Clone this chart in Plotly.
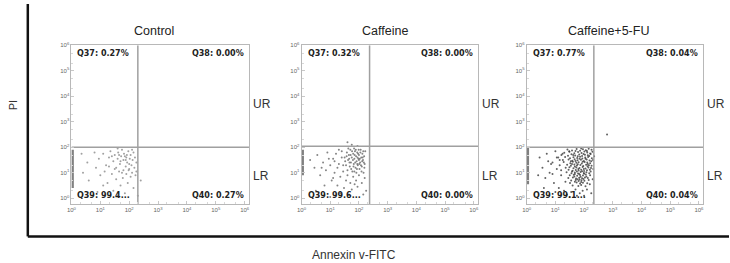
import plotly.graph_objects as go

W, H = 730, 263

panel_titles = ["Control", "Caffeine", "Caffeine+5-FU"]
q_tl = ["Q37: 0.27%", "Q37: 0.32%", "Q37: 0.77%"]
q_tr = ["Q38: 0.00%", "Q38: 0.00%", "Q38: 0.04%"]
q_bl = ["Q39: 99.4...", "Q39: 99.6...", "Q39: 99.1..."]
q_br = ["Q40: 0.27%", "Q40: 0.00%", "Q40: 0.04%"]
tick_exp = [0, 1, 2, 3, 4, 5, 6]

# gate positions (log10 units)
gate_x = [2.30, 2.37, 2.34]
gate_y = [2.00, 2.04, 2.00]

# piled-up events on the left axis (log10 y range)
edge_lo = [0.40, 0.90, 0.55]
edge_hi = [1.90, 1.90, 2.00]

# events (log10 Annexin, log10 PI)
ctrl_pts = [
    (0.35, 1.75), (0.55, 1.4), (0.8, 1.8), (0.95, 1.55), (1.1, 1.75), (1.2, 1.3), (1.3, 1.6), (1.35, 1.85),
    (1.45, 1.45), (1.5, 1.7), (1.55, 1.2), (1.6, 1.55), (1.62, 1.8), (1.68, 1.35), (1.72, 1.65), (1.75, 1.0),
    (1.8, 1.5), (1.82, 1.75), (1.88, 1.25), (1.9, 1.6), (1.93, 1.4), (1.97, 1.85), (2.0, 1.15), (2.02, 1.55),
    (2.05, 1.7), (2.08, 1.3), (2.1, 1.0), (2.12, 1.5), (2.15, 1.8), (2.18, 1.2), (2.2, 1.6), (2.22, 0.9),
    (2.25, 1.4), (0.4, 1.0), (0.6, 0.7), (0.85, 1.2), (1.0, 0.9), (1.15, 1.05), (1.25, 0.6), (1.4, 0.95),
    (1.45, 0.3), (1.55, 0.75), (1.65, 1.05), (1.7, 0.5), (1.78, 0.8), (1.85, 0.2), (1.9, 0.95), (1.95, 0.6),
    (2.05, 0.85), (2.15, 0.4), (2.25, 1.05), (2.3, 0.1), (2.4, 0.7), (1.6, 1.95), (1.75, 1.9), (1.85, 1.65),
    (1.7, 1.45), (1.8, 1.1), (1.92, 1.7), (2.0, 1.35), (1.5, 1.15), (1.4, 1.65), (1.1, 0.5), (0.9, 0.25),
    (1.3, 1.25), (1.6, 0.1), (2.1, 1.9), (1.88, 1.5), (1.65, 1.7), (1.98, 1.1),
]

caff_pts = [
    (1.5, 1.6), (1.55, 1.3), (1.58, 1.8), (1.6, 1.1), (1.62, 1.5), (1.65, 1.7), (1.68, 1.25), (1.7, 1.9),
    (1.72, 1.4), (1.75, 1.6), (1.77, 1.05), (1.8, 1.75), (1.82, 1.35), (1.84, 1.55), (1.86, 1.85), (1.88, 1.2),
    (1.9, 1.65), (1.92, 1.45), (1.94, 1.8), (1.96, 1.3), (1.98, 1.55), (2.0, 1.7), (2.02, 1.15), (2.04, 1.4),
    (2.06, 1.9), (2.08, 1.6), (2.1, 1.25), (2.12, 1.75), (2.14, 1.5), (2.16, 1.0), (2.18, 1.65), (2.2, 1.35),
    (2.22, 1.85), (1.52, 1.45), (1.63, 1.95), (1.73, 1.15), (1.79, 1.5), (1.83, 1.95), (1.87, 1.4), (1.91, 1.0),
    (1.95, 1.6), (1.99, 1.9), (2.03, 1.55), (2.07, 1.3), (2.11, 1.45), (2.15, 1.85), (2.19, 1.2), (1.57, 1.65),
    (1.67, 1.4), (1.71, 1.7), (1.81, 1.25), (1.85, 1.7), (1.93, 1.15), (1.97, 1.75), (2.01, 1.35), (2.05, 1.8),
    (2.09, 1.05), (2.13, 1.6), (2.17, 1.4), (1.76, 1.85), (1.89, 1.9), (2.0, 1.5), (1.84, 1.05), (1.66, 1.55),
    (1.94, 1.35),
    (0.3, 1.5), (0.45, 1.2), (0.55, 1.7), (0.65, 0.9), (0.75, 1.4), (0.85, 1.1), (0.9, 1.8), (1.0, 1.3),
    (1.05, 0.7), (1.1, 1.55), (1.15, 1.0), (1.2, 1.75), (1.25, 0.5), (1.3, 1.35), (1.35, 0.85), (1.4, 1.6),
    (1.45, 1.05), (1.48, 0.4), (1.55, 0.7), (1.6, 0.9), (1.7, 0.6), (1.75, 0.35), (1.8, 0.85), (1.9, 0.7),
    (1.95, 0.45), (2.0, 0.9), (2.1, 0.6), (2.2, 0.8), (2.25, 0.3), (1.65, 0.15), (1.35, 0.2), (0.8, 0.5),
    (0.5, 0.3), (1.0, 0.05), (1.85, 0.55), (2.15, 0.15), (1.25, 1.2), (1.15, 1.45), (0.95, 1.55), (1.4, 1.85),
    (1.45, 1.3), (1.3, 1.9), (0.7, 1.2), (1.1, 0.8), (1.6, 2.2), (1.75, 2.1), (1.95, 2.05),
]

fu_pts = [
    (1.42, 1.91), (1.58, 1.88), (1.74, 1.93), (1.86, 1.87), (1.96, 1.92), (2.06, 1.89), (2.16, 1.94), (2.26, 1.9),
    (1.31, 1.79), (1.49, 1.83), (1.66, 1.77), (1.79, 1.82), (1.91, 1.78), (2.01, 1.84), (2.11, 1.8), (2.21, 1.76),
    (2.29, 1.83), (1.21, 1.7), (1.44, 1.67), (1.56, 1.73), (1.69, 1.68), (1.83, 1.72), (1.93, 1.66), (2.03, 1.71),
    (2.13, 1.69), (2.23, 1.74), (1.1, 1.6), (1.34, 1.62), (1.51, 1.57), (1.63, 1.61), (1.76, 1.58), (1.86, 1.63),
    (1.94, 1.56), (2.04, 1.6), (2.14, 1.62), (2.27, 1.57), (1.26, 1.5), (1.46, 1.52), (1.59, 1.47), (1.67, 1.53),
    (1.77, 1.49), (1.89, 1.51), (1.99, 1.46), (2.09, 1.52), (2.19, 1.48), (2.31, 1.5), (0.9, 1.4), (1.29, 1.42),
    (1.52, 1.38), (1.61, 1.43), (1.73, 1.39), (1.81, 1.41), (1.92, 1.37), (2.02, 1.42), (2.11, 1.4), (2.21, 1.38),
    (1.15, 1.3), (1.41, 1.32), (1.54, 1.28), (1.66, 1.33), (1.75, 1.29), (1.87, 1.31), (1.97, 1.27), (2.07, 1.32),
    (2.17, 1.3), (2.26, 1.28), (1.36, 1.2), (1.49, 1.22), (1.63, 1.18), (1.73, 1.21), (1.84, 1.19), (1.95, 1.23),
    (2.05, 1.17), (2.15, 1.21), (2.24, 1.19), (1.2, 1.1), (1.46, 1.12), (1.6, 1.08), (1.71, 1.11), (1.81, 1.09),
    (1.9, 1.12), (2.0, 1.07), (2.1, 1.1), (2.2, 1.12), (0.8, 1.0), (1.39, 1.02), (1.56, 0.98), (1.68, 1.01),
    (1.79, 0.97), (1.88, 1.03), (1.99, 0.99), (2.08, 1.02), (2.18, 0.98), (1.5, 0.9), (1.64, 0.92), (1.76, 0.88),
    (1.86, 0.91), (1.96, 0.89), (2.06, 0.93), (2.21, 0.9), (1.45, 0.8), (1.61, 0.82), (1.72, 0.78), (1.83, 0.81),
    (1.93, 0.79), (2.03, 0.82), (2.13, 0.8), (1.55, 0.7), (1.71, 0.72), (1.81, 0.68), (1.91, 0.71), (2.01, 0.69),
    (2.16, 0.72), (1.51, 0.6), (1.74, 0.62), (1.86, 0.58), (1.96, 0.61), (2.11, 0.59), (1.6, 0.5), (1.8, 0.48),
    (1.9, 0.52), (2.05, 0.47),
    (1.48, 1.85), (1.7, 1.86), (1.9, 1.95), (2.1, 1.86), (1.62, 1.7), (1.78, 1.65), (1.98, 1.74), (2.18, 1.66),
    (1.54, 1.45), (1.7, 1.46), (1.84, 1.55), (2.05, 1.55), (2.25, 1.45), (1.58, 1.35), (1.78, 1.34), (1.95, 1.43),
    (2.13, 1.35), (1.68, 1.25), (1.8, 1.15), (1.99, 1.15), (2.12, 1.26), (1.58, 1.05), (1.75, 1.05), (1.93, 1.06),
    (2.23, 1.05), (1.68, 0.95), (1.83, 0.95), (2.0, 0.96), (1.66, 0.86), (1.88, 0.85), (2.08, 0.86), (1.77, 0.75),
    (1.98, 0.76), (1.68, 0.65), (1.9, 0.64), (1.84, 0.74),
    (0.45, 1.6), (0.55, 1.2), (0.65, 0.8), (0.7, 1.75), (0.85, 1.35), (0.95, 0.6), (1.0, 1.85), (1.05, 1.15),
    (1.12, 0.4), (1.2, 0.9), (1.25, 1.75), (1.3, 0.3), (1.35, 0.65), (1.4, 0.15), (1.55, 0.25), (1.7, 0.35),
    (1.85, 0.2), (1.95, 0.3), (2.1, 0.35), (2.2, 0.55), (2.3, 0.75), (2.32, 1.15), (2.35, 1.65), (0.6, 0.4),
    (0.9, 0.95), (0.4, 0.9), (1.05, 1.6), (0.75, 1.45), (1.15, 1.5), (1.0, 0.25), (2.25, 0.2), (1.5, 0.05),
    (1.75, 0.1), (2.0, 0.1), (2.8, 2.5),
]

all_pts = [ctrl_pts, caff_pts, fu_pts]
dot_colors = ["#8a8a8a", "#666666", "#3a3a3a"]

# panel boxes in pixels
px_left = [67, 299, 526]
px_right = [246, 477, 704]
px_top, px_bottom = 42, 203
x_range = [0, 6.15]
y_range = [-0.22, 6.0]

fig = go.Figure()

tickvals = [10 ** e for e in tick_exp]
ticktext = [f"10<sup>{e}</sup>" for e in tick_exp]

for i in range(3):
    ax = "" if i == 0 else str(i + 1)
    xa, ya = "x" + ax, "y" + ax
    pts = all_pts[i]
    fig.add_trace(go.Scatter(
        x=[10 ** p[0] for p in pts], y=[10 ** p[1] for p in pts],
        mode="markers", marker=dict(size=2, color=dot_colors[i], opacity=0.8),
        xaxis=xa, yaxis=ya, showlegend=False, hoverinfo="skip"))
    fig.add_trace(go.Scatter(
        x=[10 ** 0.04, 10 ** 0.04], y=[10 ** edge_lo[i], 10 ** edge_hi[i]],
        mode="lines", line=dict(color="#808080", width=2.5),
        xaxis=xa, yaxis=ya, showlegend=False, hoverinfo="skip"))
    fig.add_trace(go.Scatter(
        x=[10 ** gate_x[i], 10 ** gate_x[i]], y=[10 ** y_range[0], 10 ** y_range[1]],
        mode="lines", line=dict(color="#a0a0a0", width=1.5),
        xaxis=xa, yaxis=ya, showlegend=False, hoverinfo="skip"))
    fig.add_trace(go.Scatter(
        x=[10 ** x_range[0], 10 ** x_range[1]], y=[10 ** gate_y[i], 10 ** gate_y[i]],
        mode="lines", line=dict(color="#a0a0a0", width=1.5),
        xaxis=xa, yaxis=ya, showlegend=False, hoverinfo="skip"))

    common = dict(type="log", showgrid=False, zeroline=False, showline=True, mirror=True,
                  linecolor="#b8b8b8", linewidth=1, tickvals=tickvals, ticktext=ticktext,
                  ticks="inside", ticklen=3, tickcolor="#c8c8c8",
                  minor=dict(ticks="inside", ticklen=2, tickcolor="#d8d8d8"),
                  tickfont=dict(size=6, color="#666666", family="Liberation Sans"))
    fig.update_layout(**{
        "xaxis" + ax: dict(domain=[px_left[i] / W, px_right[i] / W], range=x_range,
                           anchor=ya, **common),
        "yaxis" + ax: dict(domain=[(H - px_bottom) / H, (H - px_top) / H], range=y_range,
                           anchor=xa, **common),
    })


def ann(text, x, y, xanchor="center", size=12, color="#333333", family="Liberation Sans", angle=0):
    return dict(text=text, x=x / W, y=(H - y) / H, xref="paper", yref="paper", showarrow=False,
                xanchor=xanchor, yanchor="middle", textangle=angle,
                font=dict(size=size, color=color, family=family))


annotations = []
title_cx = [150, 383, 608]
for i in range(3):
    annotations.append(ann(panel_titles[i], title_cx[i], 27, size=12.5, color="#222222"))
    L, R = px_left[i] + 4, px_right[i] - 3
    qa = dict(size=8, color="#222222", family="DejaVu Sans")
    annotations += [
        ann(f"<b>{q_tl[i]}</b>", L, 50, "left", **qa),
        ann(f"<b>{q_tr[i]}</b>", R, 50, "right", **qa),
        ann(f"<b>{q_bl[i]}</b>", L, 194, "left", **qa),
        ann(f"<b>{q_br[i]}</b>", R, 194, "right", **qa),
    ]
    annotations += [
        ann("UR", px_right[i] + 2, 102, "left"),
        ann("LR", px_right[i] + 2, 175, "left"),
    ]

annotations.append(ann("PI", 8, 103, size=11, angle=-90))
annotations.append(ann("Annexin v-FITC", 352, 255, size=12))

shapes = [
    dict(type="line", xref="paper", yref="paper", x0=23 / W, x1=23 / W, y0=1, y1=(H - 236) / H,
         line=dict(color="#111111", width=2.5)),
    dict(type="line", xref="paper", yref="paper", x0=23 / W, x1=1, y0=(H - 236) / H, y1=(H - 236) / H,
         line=dict(color="#111111", width=2.5)),
]

fig.update_layout(width=W, height=H, margin=dict(l=0, r=0, t=0, b=0),
                  paper_bgcolor="white", plot_bgcolor="white",
                  annotations=annotations, shapes=shapes)

fig.write_html("out.html", config={"displayModeBar": False, "staticPlot": True},
               post_script="document.body.style.margin='0';document.body.style.overflow='hidden';")
